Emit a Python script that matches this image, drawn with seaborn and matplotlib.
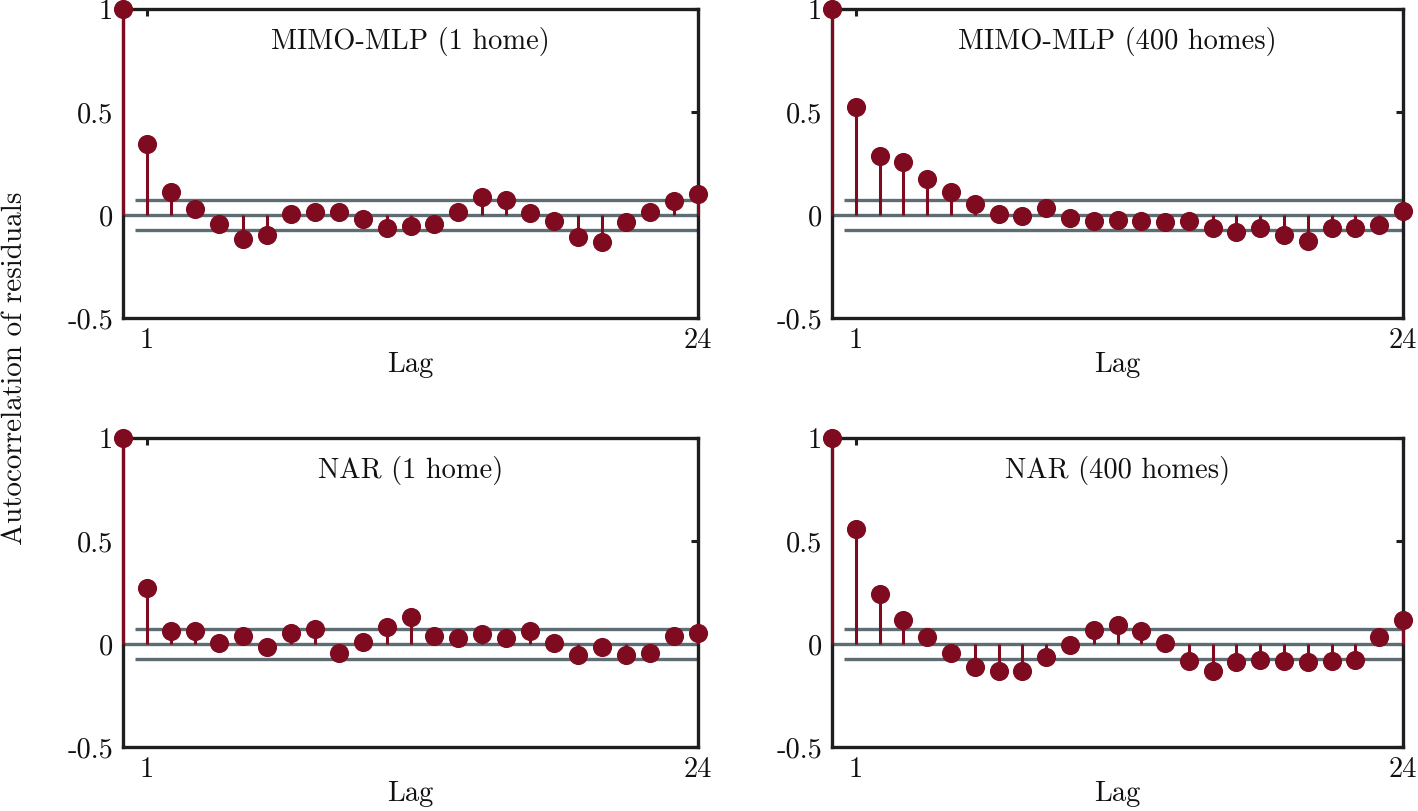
import numpy as np
import pandas as pd
import matplotlib
matplotlib.use("Agg")
import matplotlib.pyplot as plt
import seaborn as sns

# ---- data ----
lags = list(range(0, 25))
titles = ["MIMO-MLP (1 home)", "MIMO-MLP (400 homes)", "NAR (1 home)", "NAR (400 homes)"]
acf_mimo_1 = [1.0, 0.345, 0.110, 0.031, -0.045, -0.118, -0.099, 0.006, 0.015, 0.015, -0.019,
              -0.063, -0.055, -0.045, 0.015, 0.089, 0.073, 0.011, -0.028, -0.109, -0.133,
              -0.036, 0.015, 0.066, 0.100]
acf_mimo_400 = [1.0, 0.522, 0.288, 0.256, 0.177, 0.110, 0.053, 0.005, -0.005, 0.032, -0.013,
                -0.031, -0.023, -0.029, -0.036, -0.031, -0.065, -0.084, -0.065, -0.097, -0.126,
                -0.065, -0.065, -0.049, 0.021]
acf_nar_1 = [1.0, 0.272, 0.061, 0.061, 0.003, 0.039, -0.015, 0.052, 0.071, -0.045, 0.011,
             0.083, 0.133, 0.039, 0.029, 0.049, 0.031, 0.061, 0.003, -0.052, -0.015,
             -0.052, -0.045, 0.039, 0.055]
acf_nar_400 = [1.0, 0.560, 0.244, 0.115, 0.032, -0.045, -0.110, -0.133, -0.133, -0.063, -0.005,
               0.070, 0.092, 0.061, 0.005, -0.081, -0.133, -0.087, -0.076, -0.084, -0.089,
               -0.084, -0.076, 0.032, 0.115]
conf_bound = 0.074
yticks = [-0.5, 0, 0.5, 1]
ytick_labels = ["-0.5", "0", "0.5", "1"]
xticks = [1, 24]
xtick_labels = ["1", "24"]

series = [acf_mimo_1, acf_mimo_400, acf_nar_1, acf_nar_400]

# ---- style ----
sns.set_theme(style="white")
plt.rcParams["font.family"] = ["cmr10", "DejaVu Serif"]
plt.rcParams["axes.unicode_minus"] = False
plt.rcParams["mathtext.fontset"] = "cm"

RED = "#7e0b1f"
GRAY = "#5e6c73"
SPINE = "#1e1e1e"
FS = 20.5

fig = plt.figure(figsize=(14.18, 8.11), dpi=100)
W, H = 1418, 811
boxes = [(123, 698, 9, 318), (832, 1403, 9, 318), (123, 698, 438, 747), (832, 1403, 438, 747)]

for i, (vals, title, (l, r, t, b)) in enumerate(zip(series, titles, boxes)):
    ax = fig.add_axes([l / W, 1 - b / H, (r - l) / W, (b - t) / H])
    df = pd.DataFrame({"lag": lags, "acf": vals})
    # zero line and confidence bounds
    ax.hlines(0, 0, 24, color=GRAY, lw=2.4, zorder=2)
    ax.hlines([conf_bound, -conf_bound], 0.5, 24, color=GRAY, lw=2.4, zorder=2)
    # stems
    ax.vlines(df["lag"], 0, df["acf"], color=RED, lw=2.2, zorder=3, clip_on=False)
    sns.scatterplot(data=df, x="lag", y="acf", ax=ax, color=RED, s=190, linewidth=0,
                    zorder=4, clip_on=False, legend=False)
    ax.set_xlim(0, 24)
    ax.set_ylim(-0.5, 1)
    ax.set_xticks(xticks)
    ax.set_xticklabels(xtick_labels)
    ax.set_yticks(yticks)
    ax.set_yticklabels(ytick_labels)
    ax.tick_params(direction="in", length=5, width=2.2, top=True, right=True,
                   labelsize=FS, pad=7, color=SPINE, labelcolor="#111111")
    for sp in ax.spines.values():
        sp.set_linewidth(2.4)
        sp.set_color(SPINE)
        sp.set_visible(True)
    ax.set_xlabel("Lag", fontsize=FS, labelpad=-2, color="#111111")
    ax.set_ylabel("")
    ax.text(0.5, 0.895, title, transform=ax.transAxes, ha="center", va="center",
            fontsize=FS, color="#111111")

fig.text(15 / W, 1 - 368 / H, "Autocorrelation of residuals", rotation=90,
         ha="center", va="center", fontsize=21, color="#111111")

fig.savefig("out.png", dpi=100)
